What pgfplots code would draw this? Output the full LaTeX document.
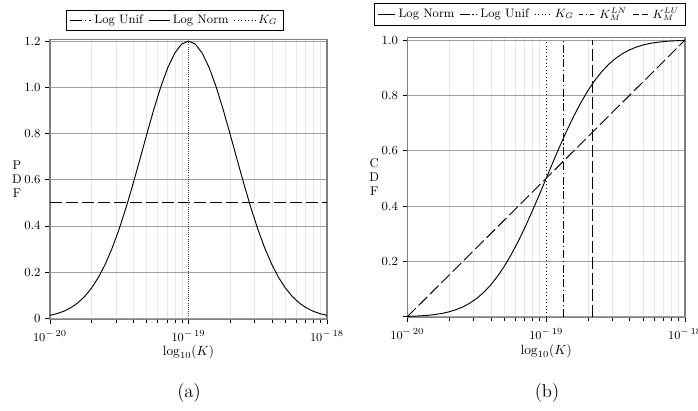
\documentclass[border=0pt]{standalone}
\usepackage{pgfplots}
\pgfplotsset{compat=1.18}
\pgfplotsset{
  myax/.style={
    scale only axis,
    xmin=1e-20, xmax=1e-18,
    xtick={1e-20,1e-19,1e-18},
    xticklabels={$10^{-\,20}$,$10^{-\,19}$,$10^{-\,18}$},
    minor xtick={2e-20,3e-20,4e-20,5e-20,6e-20,7e-20,8e-20,9e-20,2e-19,3e-19,4e-19,5e-19,6e-19,7e-19,8e-19,9e-19},
    tick align=outside, tick pos=left,
    major tick length=3.5pt, minor tick length=2.5pt,
    every tick/.style={black, line width=0.5pt},
    ymajorgrids, xminorgrids,
    major grid style={gray!75, line width=0.5pt},
    minor grid style={gray!18, line width=0.5pt},
    axis line style={gray, line width=1pt},
    tick label style={font=\fontsize{9.3}{10}\selectfont},
    xticklabel style={yshift=-1pt},
    xlabel={$\log_{10}(K)$},
    xlabel style={at={(axis description cs:0.5,0)}, yshift=-24.75pt, anchor=center, font=\fontsize{9.8}{11}\selectfont},
    ylabel style={rotate=-90, anchor=center, align=center, font=\fontsize{9.5}{10.5}\selectfont},
    legend style={draw=black, line width=0.5pt, anchor=center, legend columns=-1,
      font=\fontsize{9.2}{10}\selectfont, inner ysep=1.5pt,
      /tikz/every even column/.append style={column sep=2pt}},
  }
}
\begin{document}
\begin{tikzpicture}
\useasboundingbox (0pt,0pt) rectangle (523.5pt,307.5pt);
\begin{semilogxaxis}[myax,
  at={(37.5pt,68pt)}, anchor=south west,
  width=207.75pt, height=209.85pt,
  ymin=-0.0043, ymax=1.2065,
  ytick={0,0.2,0.4,0.6,0.8,1.0,1.2},
  yticklabels={0,0.2,0.4,0.6,0.8,1.0,1.2},
  ylabel={P\\D\\F},
  ylabel style={at={(axis description cs:-0.119,0.5)}},
  legend style={at={(0.451,1.0697)}},
  legend image code/.code={\draw[#1] (0cm,0cm) -- (0.55cm,0cm);},
]
\addlegendimage{black, line width=0.7pt, dash pattern=on 9pt off 2pt on 1pt off 2pt}
\addlegendentry{Log Unif}
\addlegendimage{black, line width=0.7pt}
\addlegendentry{Log Norm}
\addlegendimage{black, line width=0.6pt, dotted}
\addlegendentry{$K_G$}
\addplot[forget plot, black, line width=0.7pt, dash pattern=on 9pt off 3pt] coordinates {(1e-20,0.5) (1e-18,0.5)};
\addplot[forget plot, black, line width=0.7pt] coordinates {
(1e-20,0.0130) (1.122e-20,0.0202) (1.2589e-20,0.0307) (1.4125e-20,0.0457) (1.5849e-20,0.0663)
(1.7783e-20,0.0942) (1.9953e-20,0.1307) (2.2387e-20,0.1774) (2.5119e-20,0.2354) (2.8184e-20,0.3054)
(3.1623e-20,0.3873) (3.5481e-20,0.4801) (3.9811e-20,0.5819) (4.4668e-20,0.6895) (5.0119e-20,0.7987)
(5.6234e-20,0.9044) (6.3096e-20,1.0014) (7.0795e-20,1.0839) (7.9433e-20,1.1469) (8.9125e-20,1.1865)
(1e-19,1.2)
(1.122e-19,1.1865) (1.2589e-19,1.1469) (1.4125e-19,1.0839) (1.5849e-19,1.0014) (1.7783e-19,0.9044)
(1.9953e-19,0.7987) (2.2387e-19,0.6895) (2.5119e-19,0.5819) (2.8184e-19,0.4801) (3.1623e-19,0.3873)
(3.5481e-19,0.3054) (3.9811e-19,0.2354) (4.4668e-19,0.1774) (5.0119e-19,0.1307) (5.6234e-19,0.0942)
(6.3096e-19,0.0663) (7.0795e-19,0.0457) (7.9433e-19,0.0307) (8.9125e-19,0.0202) (1e-18,0.0130)};
\addplot[forget plot, black!75, line width=0.6pt, densely dotted] coordinates {(1e-19,0) (1e-19,1.2)};
\end{semilogxaxis}

\begin{semilogxaxis}[myax,
  at={(305.5pt,69.2pt)}, anchor=south west,
  width=208.3pt, height=210.3pt,
  ymin=-0.0036, ymax=1.0098,
  ytick={0,0.2,0.4,0.6,0.8,1.0},
  yticklabels={,0.2,0.4,0.6,0.8,1.0},
  ylabel={C\\D\\F},
  ylabel style={at={(axis description cs:-0.119,0.5)}},
  legend style={at={(0.441,1.083)}},
  legend image code/.code={\draw[#1] (0cm,0cm) -- (0.45cm,0cm);},
]
\addlegendimage{black, line width=0.7pt}
\addlegendentry{Log Norm}
\addlegendimage{black, line width=0.7pt, dash pattern=on 7pt off 2pt on 1pt off 2pt}
\addlegendentry{Log Unif}
\addlegendimage{black, line width=0.6pt, dotted}
\addlegendentry{$K_G$}
\addlegendimage{black, line width=0.6pt, dash pattern=on 3pt off 2pt on 1pt off 2pt}
\addlegendentry{$K_M^{LN}$}
\addlegendimage{black, line width=0.6pt, dash pattern=on 4.5pt off 2.5pt}
\addlegendentry{$K_M^{LU}$}
\addplot[forget plot, black, line width=0.7pt] coordinates {
(1e-20,0.0013) (1.122e-20,0.0021) (1.2589e-20,0.0034) (1.4125e-20,0.0053) (1.5849e-20,0.0081)
(1.7783e-20,0.0120) (1.9953e-20,0.0176) (2.2387e-20,0.0253) (2.5119e-20,0.0356) (2.8184e-20,0.0490)
(3.1623e-20,0.0663) (3.5481e-20,0.0879) (3.9811e-20,0.1144) (4.4668e-20,0.1462) (5.0119e-20,0.1834)
(5.6234e-20,0.2260) (6.3096e-20,0.2737) (7.0795e-20,0.3259) (7.9433e-20,0.3818) (8.9125e-20,0.4402)
(1e-19,0.5)
(1.122e-19,0.5598) (1.2589e-19,0.6182) (1.4125e-19,0.6741) (1.5849e-19,0.7263) (1.7783e-19,0.7740)
(1.9953e-19,0.8166) (2.2387e-19,0.8538) (2.5119e-19,0.8856) (2.8184e-19,0.9121) (3.1623e-19,0.9337)
(3.5481e-19,0.9510) (3.9811e-19,0.9644) (4.4668e-19,0.9747) (5.0119e-19,0.9824) (5.6234e-19,0.9880)
(6.3096e-19,0.9919) (7.0795e-19,0.9947) (7.9433e-19,0.9966) (8.9125e-19,0.9979) (1e-18,0.9987)};
\addplot[forget plot, black, line width=0.7pt, dash pattern=on 9pt off 3pt] coordinates {(1e-20,0) (1e-18,1)};
\addplot[forget plot, black, line width=0.6pt, dotted] coordinates {(1e-19,0) (1e-19,1)};
\addplot[forget plot, black, line width=0.6pt, dash pattern=on 6pt off 2pt on 1pt off 2pt] coordinates {(1.334e-19,0) (1.334e-19,1)};
\addplot[forget plot, black, line width=0.6pt, dash pattern=on 9pt off 3pt] coordinates {(2.15e-19,0) (2.15e-19,1)};
\end{semilogxaxis}

\node[font=\fontsize{14}{16}\selectfont] at (141.75pt,12.75pt) {(a)};
\node[font=\fontsize{14}{16}\selectfont] at (410.25pt,12.75pt) {(b)};
\end{tikzpicture}
\end{document}
